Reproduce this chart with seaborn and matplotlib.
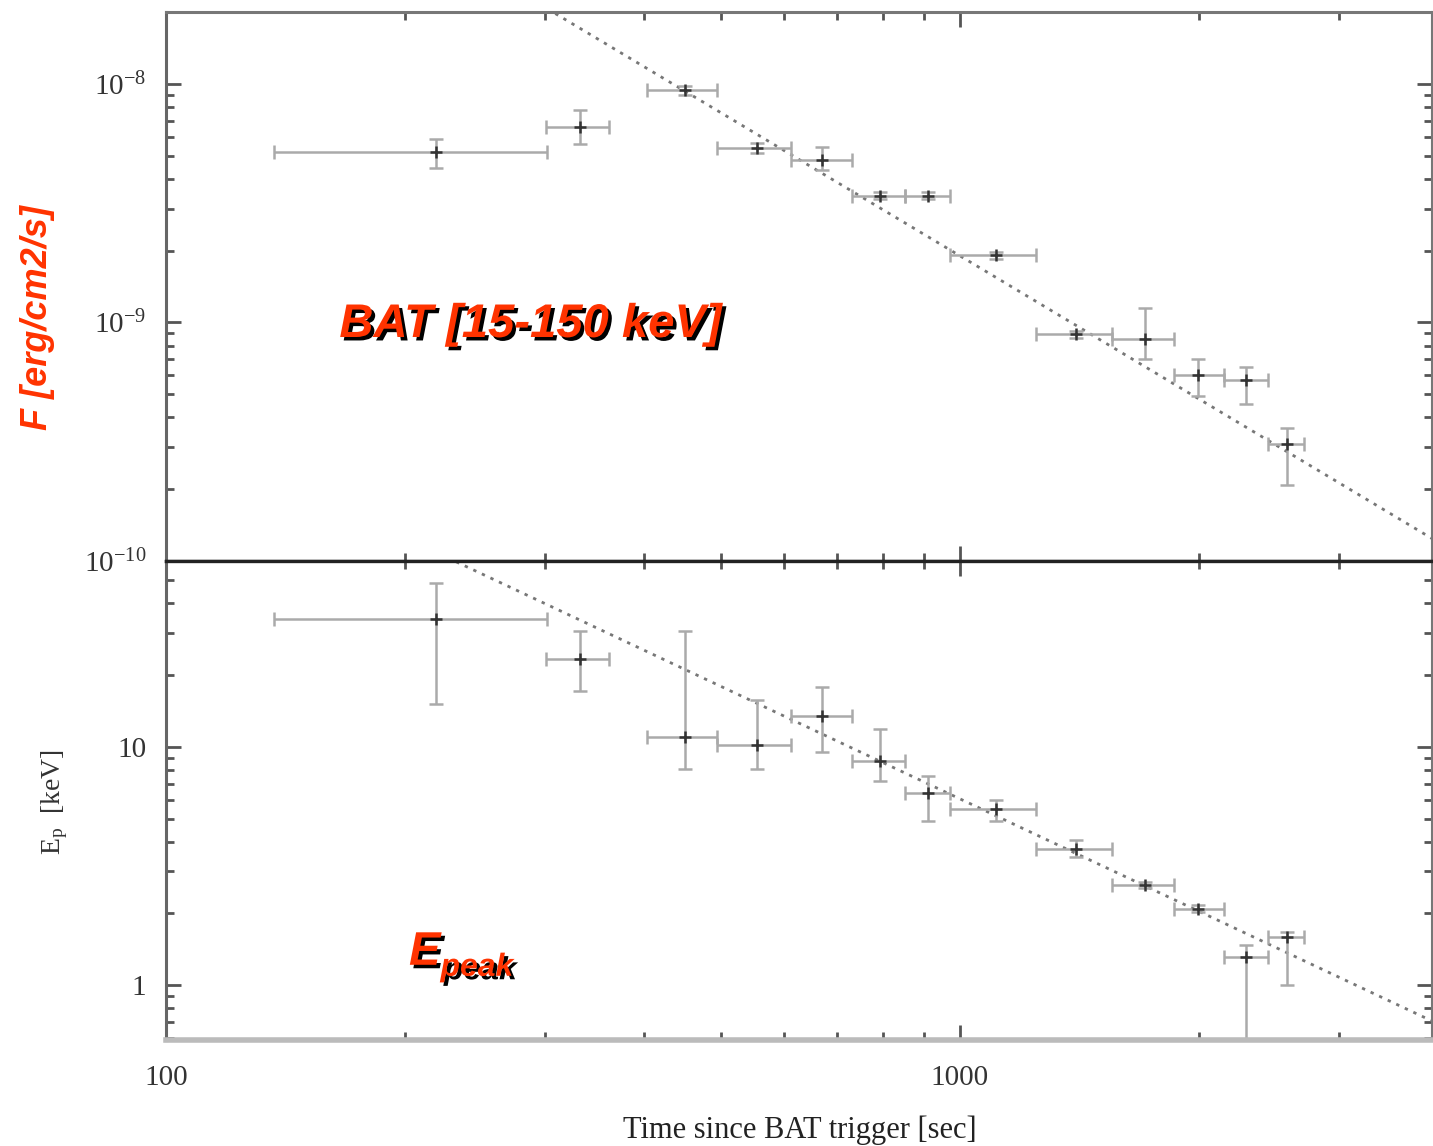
import numpy as np
import pandas as pd
import seaborn as sns
import matplotlib
matplotlib.use("Agg")
import matplotlib.pyplot as plt
from matplotlib import ticker, patheffects

# ---------------- data ----------------
t_mid = [219, 332, 450, 555, 670, 793, 911, 1110, 1399, 1710, 1997, 2292, 2580]
t_lo  = [137, 301, 404, 495, 613, 731, 854, 971, 1246, 1554, 1860, 2150, 2441]
t_hi  = [302, 361, 495, 613, 731, 854, 971, 1246, 1554, 1860, 2150, 2441, 2712]

flux    = [5.19e-9, 6.6e-9, 9.4e-9, 5.4e-9, 4.8e-9, 3.4e-9, 3.4e-9, 1.91e-9, 8.9e-10, 8.5e-10, 6.0e-10, 5.75e-10, 3.08e-10]
flux_lo = [4.44e-9, 5.6e-9, 9.0e-9, 5.15e-9, 4.36e-9, 3.28e-9, 3.28e-9, 1.84e-9, 8.6e-10, 7.0e-10, 4.9e-10, 4.57e-10, 2.08e-10]
flux_hi = [5.88e-9, 7.8e-9, 9.8e-9, 5.65e-9, 5.44e-9, 3.52e-9, 3.52e-9, 1.98e-9, 9.2e-10, 1.15e-9, 7.05e-10, 6.5e-10, 3.6e-10]

epeak    = [34.3, 23.3, 11.0, 10.2, 13.4, 8.7, 6.4, 5.5, 3.74, 2.63, 2.09, 1.31, 1.6]
epeak_lo = [15.1, 17.1, 8.1, 8.1, 9.5, 7.2, 4.9, 4.9, 3.44, 2.55, 2.02, 0.5, 1.0]
epeak_hi = [48.5, 30.5, 30.5, 15.7, 17.7, 11.9, 7.5, 6.0, 4.06, 2.7, 2.16, 1.48, 1.68]

# power-law fit lines (endpoints)
fit_t    = [200, 4000]
fit_flux = [4.7e-8, 1.2e-10]
fit_ep   = [75.1, 0.69]

df = pd.DataFrame(dict(t=t_mid, lo=t_lo, hi=t_hi, F=flux, Flo=flux_lo, Fhi=flux_hi,
                       E=epeak, Elo=epeak_lo, Ehi=epeak_hi))
fit_df = pd.DataFrame(dict(t=fit_t, F=fit_flux, E=fit_ep))

# ---------------- style ----------------
sns.set_theme(style="ticks")
plt.rcParams["font.family"] = ["Liberation Serif", "DejaVu Serif"]
plt.rcParams["mathtext.fontset"] = "custom"
plt.rcParams["mathtext.rm"] = "Liberation Serif"
plt.rcParams["mathtext.it"] = "Liberation Serif:italic"
plt.rcParams["mathtext.bf"] = "Liberation Serif:bold"

RED = "#ff3300"
TICKC = "#555555"
LABC = "#333333"

fig = plt.figure(figsize=(14.33, 11.46), dpi=100)
ax1 = fig.add_axes([0.1158, 0.5105, 0.8834, 0.479])
ax2 = fig.add_axes([0.1158, 0.0925, 0.8834, 0.418], sharex=ax1)

err_kw = dict(fmt="none", ecolor="#aaaaaa", elinewidth=1.8, capsize=5, capthick=1.8, zorder=2)

# top panel
ax1.errorbar(df.t, df.F, xerr=[df.t - df.lo, df.hi - df.t], yerr=[df.F - df.Flo, df.Fhi - df.F], **err_kw)
sns.scatterplot(data=df, x="t", y="F", ax=ax1, marker="+", s=70, color="#333333", linewidth=1.8, zorder=3, legend=False)
sns.lineplot(data=fit_df, x="t", y="F", ax=ax1, color="#777777", linewidth=2, zorder=1, legend=False)
ax1.lines[-1].set_dashes([1.2, 2.2])

# bottom panel
ax2.errorbar(df.t, df.E, xerr=[df.t - df.lo, df.hi - df.t], yerr=[df.E - df.Elo, df.Ehi - df.E], **err_kw)
sns.scatterplot(data=df, x="t", y="E", ax=ax2, marker="+", s=70, color="#333333", linewidth=1.8, zorder=3, legend=False)
sns.lineplot(data=fit_df, x="t", y="E", ax=ax2, color="#777777", linewidth=2, zorder=1, legend=False)
ax2.lines[-1].set_dashes([1.2, 2.2])

for ax in (ax1, ax2):
    ax.set_xscale("log")
    ax.set_yscale("log")
    ax.set_xlabel("")
    ax.set_ylabel("")
    ax.tick_params(which="both", direction="in", top=True, right=True, colors=TICKC,
                   labelcolor=LABC, labelsize=21)
    ax.tick_params(which="major", length=11, width=2)
    ax.tick_params(which="minor", length=6, width=2)
    ax.tick_params(axis="y", pad=14)
    ax.tick_params(axis="x", pad=18)

ax1.set_xlim(100, 3930)
ax1.set_ylim(1e-10, 2.0e-8)
ax2.set_ylim(0.59, 60)

ax1.tick_params(axis="x", labelbottom=False)
ax2.xaxis.set_major_formatter(ticker.FuncFormatter(lambda v, p: f"{v:g}"))
ax2.xaxis.set_minor_formatter(ticker.NullFormatter())
ax2.yaxis.set_major_formatter(ticker.FuncFormatter(lambda v, p: f"{v:g}"))
ax2.yaxis.set_minor_formatter(ticker.NullFormatter())
ax1.yaxis.set_minor_formatter(ticker.NullFormatter())

# spines
ax1.spines["top"].set_color("#777777"); ax1.spines["top"].set_linewidth(2.2)
ax1.spines["left"].set_color("#666666"); ax1.spines["left"].set_linewidth(2.2)
ax1.spines["right"].set_color("#777777"); ax1.spines["right"].set_linewidth(1.5)
ax1.spines["bottom"].set_color("#222222"); ax1.spines["bottom"].set_linewidth(2.4)
ax2.spines["top"].set_color("#222222"); ax2.spines["top"].set_linewidth(2.4)
ax2.spines["left"].set_color("#666666"); ax2.spines["left"].set_linewidth(2.2)
ax2.spines["right"].set_color("#777777"); ax2.spines["right"].set_linewidth(1.5)
ax2.spines["bottom"].set_color("#bbbbbb"); ax2.spines["bottom"].set_linewidth(4)

shadow = [patheffects.SimplePatchShadow(offset=(2.5, -2.5), shadow_rgbFace="black", alpha=1.0),
          patheffects.Normal()]
sans_bi = dict(family=["Liberation Sans", "DejaVu Sans"], weight="bold", style="italic")

ax1.text(0.137, 0.408, "BAT [15-150 keV]", transform=ax1.transAxes, color=RED,
         fontsize=34, va="baseline", ha="left", path_effects=shadow, **sans_bi)

tE = ax2.text(0.192, 0.157, "E", transform=ax2.transAxes, color=RED,
              fontsize=34, va="baseline", ha="left", path_effects=shadow, **sans_bi)
ax2.annotate("peak", xy=(1.0, 0.5), xycoords=tE, color=RED, fontsize=23,
             va="top", ha="left", path_effects=shadow, **sans_bi)

fig.text(0.026, 0.723, "F [erg/cm2/s]", rotation=90, color=RED, fontsize=26,
         ha="center", va="center", **sans_bi)
fig.text(0.038, 0.30, r"E$_\mathrm{p}$  [keV]", rotation=90, color=LABC, fontsize=20,
         ha="center", va="center")
fig.text(0.558, 0.014, "Time since BAT trigger [sec]", color="#222222", fontsize=22,
         ha="center", va="center")

fig.savefig("out.png", dpi=100)
